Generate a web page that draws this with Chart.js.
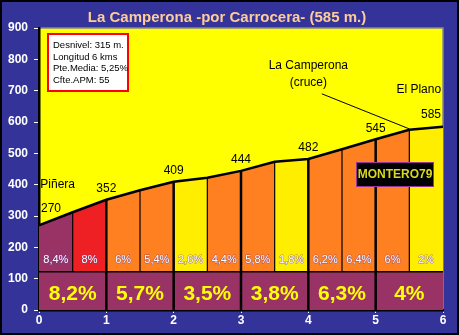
<!DOCTYPE html>
<html>
<head>
<meta charset="utf-8">
<script src="https://cdn.jsdelivr.net/npm/chart.js@4.4.0/dist/chart.umd.min.js"></script>
<style>
html, body { margin: 0; padding: 0; background: #333399; }
canvas { display: block; }
</style>
</head>
<body>
<canvas id="chart" width="459" height="335"></canvas>
<script>
// datos del perfil
var kms = [0, 0.5, 1, 1.5, 2, 2.5, 3, 3.5, 4, 4.5, 5, 5.5, 6];
var altitudes = [270, 312, 352, 382, 409, 422, 444, 473, 482, 513, 545, 575, 585];
var pendientes = [8.4, 8, 6, 5.4, 2.6, 4.4, 5.8, 1.8, 6.2, 6.4, 6, 2];
var pendientesKm = [8.2, 5.7, 3.5, 3.8, 6.3, 4];
var baseFranja = 122;
var lugares = ["Piñera", "La Camperona", "(cruce)", "El Plano"];
var lugaresKm = [0.02, 4.0, 4.0, 5.64];
var lugaresAlt = [399, 780, 727, 702];
var lineaCruce = [{ x: 4.2, y: 690 }, { x: 5.5, y: 578 }];
var infoTexto = ["Desnivel: 315 m.", "Longitud 6 kms", "Pte.Media: 5,25%", "Cfte.APM: 55"];
var titulo = "La Camperona -por Carrocera- (585 m.)";

function colorPendiente(p) {
  if (p < 3) return "#FFEE00";
  if (p < 7) return "#FF8020";
  if (p <= 8) return "#EE2024";
  return "#993366";
}
function fmt(p) {
  return String(p).replace(".", ",") + "%";
}

var datasets = [];

// linea del perfil
datasets.push({
  data: kms.map(function (k, i) { return { x: k, y: altitudes[i] }; }),
  borderColor: "#000", borderWidth: 2.5, pointRadius: 0, fill: false, order: 0
});

// linea hacia el cruce
datasets.push({
  data: lineaCruce, borderColor: "#000", borderWidth: 1, pointRadius: 0, fill: false, order: 1
});

// separadores
kms.forEach(function (k, i) {
  if (k === 0 || k === 6) return;
  var entero = Math.round(k) === k;
  datasets.push({
    data: [{ x: k, y: entero ? 0 : baseFranja }, { x: k, y: altitudes[i] }],
    borderColor: "#000", borderWidth: entero ? 2.5 : 1.2, pointRadius: 0, fill: false, order: 2
  });
});

// franja inferior
datasets.push({
  data: [{ x: 0, y: baseFranja }, { x: 6, y: baseFranja }],
  borderColor: "#000", borderWidth: 1.5, pointRadius: 0,
  backgroundColor: "#993366", fill: "origin", order: 5
});

// tramos de 500 m
pendientes.forEach(function (p, i) {
  datasets.push({
    data: [{ x: kms[i], y: altitudes[i] }, { x: kms[i + 1], y: altitudes[i + 1] }],
    borderWidth: 0, pointRadius: 0, borderColor: "rgba(0,0,0,0)",
    backgroundColor: colorPendiente(p), fill: { value: baseFranja }, order: 10
  });
});

var textos = {
  id: "textos",
  beforeDraw: function (chart) {
    var c = chart.ctx, a = chart.chartArea;
    c.save();
    c.fillStyle = "#333399";
    c.fillRect(0, 0, chart.width, chart.height);
    c.strokeStyle = "#000";
    c.lineWidth = 2;
    c.strokeRect(1, 1, chart.width - 2, chart.height - 2);
    c.fillStyle = "#FFFF00";
    c.fillRect(a.left, a.top, a.right - a.left, a.bottom - a.top);
    c.strokeStyle = "#888888";
    c.lineWidth = 1.5;
    c.beginPath();
    c.moveTo(a.left, a.top);
    c.lineTo(a.right, a.top);
    c.lineTo(a.right, a.bottom);
    c.stroke();
    c.restore();
  },
  afterDatasetsDraw: function (chart) {
    var c = chart.ctx, xs = chart.scales.x, ys = chart.scales.y;
    c.save();
    c.textBaseline = "middle";

    // titulo
    c.font = "bold 15px 'Liberation Sans', Arial, sans-serif";
    c.fillStyle = "#FFCC99";
    c.textAlign = "center";
    c.fillText(titulo, 227, 18);

    // pendientes por tramo
    c.font = "11px 'Liberation Sans', Arial, sans-serif";
    c.lineWidth = 1;
    pendientes.forEach(function (p, i) {
      var x = xs.getPixelForValue((kms[i] + kms[i + 1]) / 2);
      var y = ys.getPixelForValue(160);
      c.strokeStyle = "rgba(102,51,153,0.6)";
      c.strokeText(fmt(p), x, y);
      c.fillStyle = "#FFFFFF";
      c.fillText(fmt(p), x, y);
    });

    // pendientes por km
    c.font = "bold 21px 'Liberation Sans', Arial, sans-serif";
    c.fillStyle = "#FFFF00";
    pendientesKm.forEach(function (p, i) {
      c.fillText(fmt(p), xs.getPixelForValue(i + 0.5), ys.getPixelForValue(52));
    });

    // altitudes
    c.font = "12px 'Liberation Sans', Arial, sans-serif";
    c.fillStyle = "#000";
    kms.forEach(function (k, i) {
      if (Math.round(k) !== k) return;
      var x = xs.getPixelForValue(k), y = ys.getPixelForValue(altitudes[i]);
      if (k === 0) { c.textAlign = "left"; c.fillText(altitudes[i], x + 2, y - 17); }
      else if (k === 6) { c.textAlign = "right"; c.fillText(altitudes[i], x - 2, y - 12); }
      else { c.textAlign = "center"; c.fillText(altitudes[i], x, y - 11); }
    });

    // lugares
    lugares.forEach(function (t, i) {
      c.textAlign = i === 0 ? "left" : "center";
      c.fillText(t, xs.getPixelForValue(lugaresKm[i]), ys.getPixelForValue(lugaresAlt[i]));
    });

    // cuadro de datos
    c.fillStyle = "#FFFFFF";
    c.fillRect(48, 34, 80, 57);
    c.strokeStyle = "#FF0000";
    c.lineWidth = 2;
    c.strokeRect(48, 34, 80, 57);
    c.fillStyle = "#000";
    c.textAlign = "left";
    c.font = "9.5px 'Liberation Sans', Arial, sans-serif";
    infoTexto.forEach(function (t, i) {
      c.fillText(t, 53, 45.5 + i * 11.6);
    });

    // firma
    c.fillStyle = "#000";
    c.fillRect(356, 162, 78, 25);
    c.strokeStyle = "#993399";
    c.lineWidth = 1;
    c.strokeRect(356.5, 162.5, 77, 24);
    c.font = "bold 12px 'Liberation Sans', Arial, sans-serif";
    c.fillStyle = "#D8D820";
    c.textAlign = "center";
    c.fillText("MONTERO79", 395, 175);
    c.restore();
  }
};

var fuenteEje = { family: "'Liberation Sans', Arial, sans-serif", size: 12, weight: "bold" };

new Chart(document.getElementById("chart"), {
  type: "line",
  data: { datasets: datasets },
  options: {
    responsive: false,
    animation: false,
    layout: { padding: { top: 28, right: 16, left: 0, bottom: 0 } },
    plugins: { legend: { display: false }, tooltip: { enabled: false }, title: { display: false } },
    scales: {
      x: {
        type: "linear", min: 0, max: 6,
        ticks: { stepSize: 1, color: "#FFFFFF", font: fuenteEje, padding: 0, maxRotation: 0 },
        grid: { drawOnChartArea: false, drawTicks: true, tickLength: 3, color: "#FFFFFF" },
        border: { color: "#000", width: 2.5 },
        afterFit: function (s) { s.height = 25; }
      },
      y: {
        min: 0, max: 900,
        ticks: { stepSize: 100, color: "#FFFFFF", font: fuenteEje, padding: 6 },
        grid: { drawOnChartArea: false, drawTicks: true, tickLength: 5, color: "#FFFFFF" },
        border: { color: "#000", width: 2.5 },
        afterFit: function (s) { s.width = 39; }
      }
    }
  },
  plugins: [textos]
});
</script>
</body>
</html>
